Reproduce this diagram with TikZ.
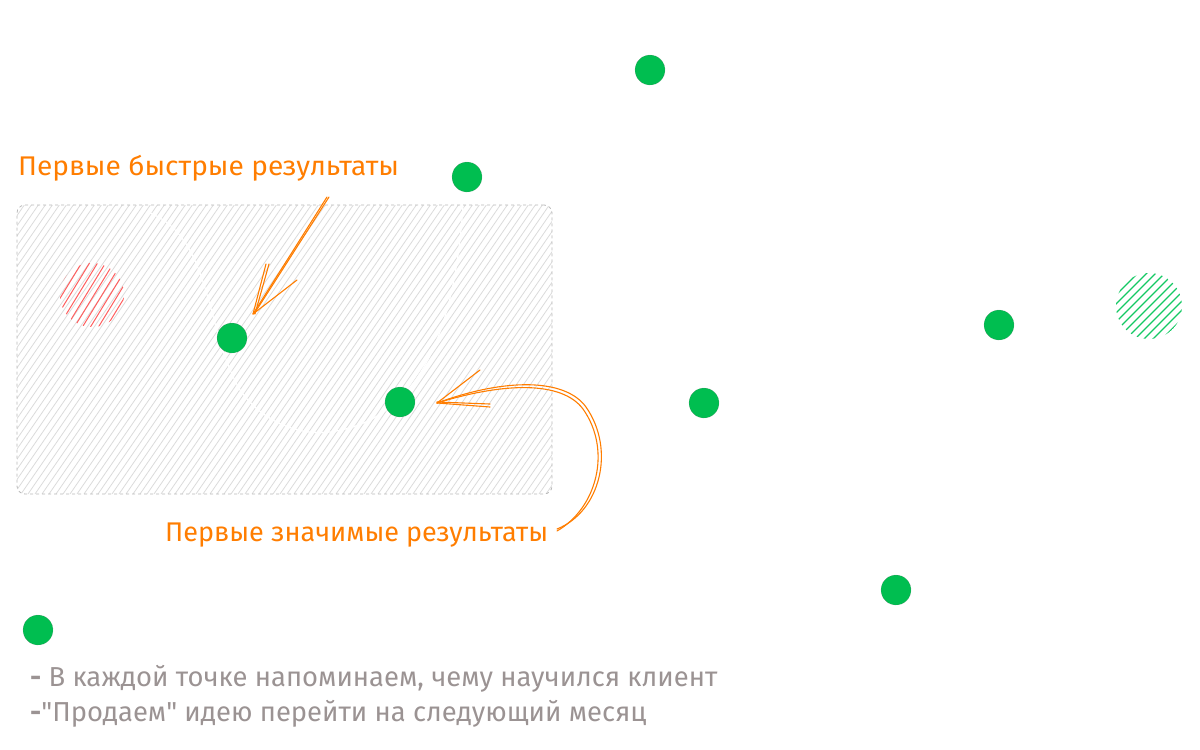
\documentclass[tikz,border=0pt]{standalone}
\usepackage{fontspec}
\setmainfont{Fira Sans}
\newfontfamily\notefont{Fira Sans}
\definecolor{dotgreen}{RGB}{0,190,80}
\definecolor{orng}{RGB}{255,125,0}
\definecolor{txtgray}{RGB}{155,147,147}
\definecolor{hatchred}{RGB}{255,95,95}
\definecolor{hatchgreen}{RGB}{20,200,100}
\begin{document}
\begin{tikzpicture}[x=1pt,y=-1pt,
  dot/.style={circle,fill=dotgreen,minimum size=30pt,inner sep=0pt,draw=black!55,densely dotted,line width=0.4pt},
  lbl/.style={text=orng,font=\fontsize{27}{30}\selectfont,anchor=west,inner sep=0pt},
  note/.style={text=txtgray,font=\notefont\fontsize{27.4}{30}\selectfont,anchor=west,inner sep=0pt},
  arr/.style={draw=orng,line width=1.1pt,line cap=round},
  hatchbox/.style={gray!28,line width=0.8pt},
  ghost/.style={white,line width=1.2pt}
]
\useasboundingbox (0,0) rectangle (1200,750);

% hatched box
\begin{scope}
  \clip[rounded corners=8pt] (17,205) rectangle (552,494);
  \foreach \i in {-210,-203,...,560} \draw[hatchbox] (\i,494) -- ++(200,-290);
  \draw[ghost] (150,213) .. controls (212,238) and (205,330) .. (240,390)
               .. controls (262,422) and (300,436) .. (330,432)
               .. controls (420,420) and (455,330) .. (463,205);
\end{scope}
\node[draw=gray!55,dashed,rounded corners=8pt,line width=0.8pt,minimum width=535pt,minimum height=289pt,inner sep=0pt] (box) at (284.5,349.5) {};

% red hatched circle
\node[circle,minimum size=64pt,inner sep=0pt] (red) at (92,295) {};
\begin{scope}
  \clip (92,295) circle (32);
  \foreach \i in {-70,-62,...,70} \draw[hatchred,line width=1pt] ({92+\i-22},331) -- ++(44,-72);
\end{scope}

% green hatched circle
\node[circle,minimum size=66pt,inner sep=0pt] (grn) at (1149,306) {};
\begin{scope}
  \clip (1149,306) circle (33);
  \foreach \i in {-80,-71,...,80} \draw[hatchgreen,line width=1.1pt] ({1149+\i-36},342) -- ++(72,-72);
\end{scope}

% dots
\node[dot] (d1) at (650,70) {};
\node[dot] (d2) at (467,177) {};
\node[dot] (d3) at (999,325) {};
\node[dot] (d4) at (704,403) {};
\node[dot] (d5) at (896,590) {};
\node[dot] (d6) at (38,630) {};
\node[dot] (d7) at (232,338) {};
\node[dot] (d8) at (400,402) {};

% labels
\node[lbl,xscale=1.04] (t1) at (18,168) {Первые быстрые результаты};
\node[lbl] (t2) at (165,535) {Первые значимые результаты};
\node[note] (n1) at (30,679) {\textbf{-} В каждой точке напоминаем, чему научился клиент};
\node[note] (n2) at (30,714) {\textbf{-}"Продаем" идею перейти на следующий месяц};

% arrow 1
\coordinate (a1s) at (327,197);
\coordinate (a1t) at (253,314);
\coordinate (h1a) at (266,264);
\coordinate (h1b) at (297,280);
\draw[arr] (a1s) -- (a1t);
\draw[arr] ([xshift=2pt]a1s) -- ([xshift=1pt]a1t);
\draw[arr] (a1t) -- (h1a);
\draw[arr] ([xshift=2pt]a1t) -- ([xshift=3pt]h1a);
\draw[arr] (a1t) -- (h1b);

% arrow 2
\coordinate (a2s) at (557,529);
\coordinate (a2t) at (437,403);
\coordinate (h2a) at (480,370);
\coordinate (h2b) at (490,404);
\draw[arr] (a2s) .. controls (600,512) and (616,450) .. (586,407)
                 .. controls (565,378) and (505,378) .. (a2t);
\draw[arr] ([yshift=-2pt]a2s) .. controls (597,508) and (612,450) .. (583,409)
                 .. controls (562,381) and (505,382) .. (a2t);
\draw[arr] (a2t) -- (h2a);
\draw[arr] ([yshift=1pt]a2t) -- (h2b);
\draw[arr] (a2t) -- ([yshift=-3pt]h2b);
\end{tikzpicture}
\end{document}
